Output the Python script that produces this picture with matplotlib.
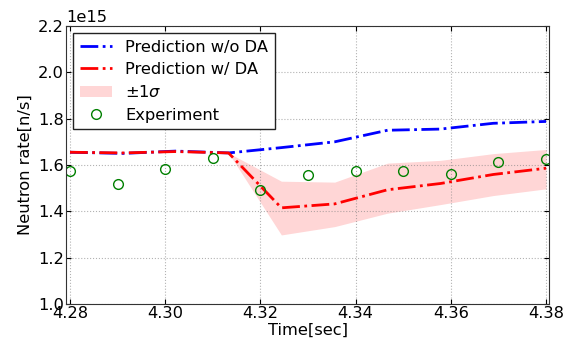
import numpy as np
import matplotlib
matplotlib.use('Agg')
import matplotlib.pyplot as plt

# model time grid (10 steps)
t_model = [4.28, 4.2911, 4.3022, 4.3133, 4.3244, 4.3356, 4.3467, 4.3578, 4.3689, 4.38]
pred_no_da = [1.655, 1.650, 1.660, 1.652, 1.675, 1.700, 1.750, 1.755, 1.780, 1.788]
pred_da = [1.655, 1.652, 1.658, 1.652, 1.415, 1.432, 1.493, 1.520, 1.559, 1.586]
da_upper = [1.655, 1.652, 1.658, 1.652, 1.530, 1.526, 1.608, 1.620, 1.649, 1.667]
da_lower = [1.655, 1.652, 1.658, 1.652, 1.298, 1.334, 1.392, 1.429, 1.468, 1.497]

# measurements
t_exp = [4.28, 4.29, 4.30, 4.31, 4.32, 4.33, 4.34, 4.35, 4.36, 4.37, 4.38]
n_exp = [1.572, 1.520, 1.581, 1.628, 1.494, 1.555, 1.576, 1.572, 1.563, 1.615, 1.624]

scale = 1e15

fig = plt.figure(figsize=(5.69, 3.40), dpi=100)
ax = fig.add_axes([0.116, 0.106, 0.849, 0.8175])

ax.plot(t_model, np.array(pred_no_da) * scale, color='blue', linestyle='-.', lw=2,
        label='Prediction w/o DA')
ax.plot(t_model, np.array(pred_da) * scale, color='red', linestyle='-.', lw=2,
        label='Prediction w/ DA')
ax.fill_between(t_model, np.array(da_lower) * scale, np.array(da_upper) * scale,
                color='#ffcccc', alpha=0.8, lw=0, label=r'$\pm1\sigma$')
ax.plot(t_exp, np.array(n_exp) * scale, 'o', mfc='none', mec='green', ms=7, mew=1,
        label='Experiment')

ax.set_xlim(4.27916, 4.38063)
ax.set_ylim(1.0e15, 2.2e15)
ax.set_xticks([4.28, 4.30, 4.32, 4.34, 4.36, 4.38])
ax.set_xlabel('Time[sec]', fontsize=11.7, labelpad=1)
ax.set_ylabel('Neutron rate[n/s]', fontsize=11.7, labelpad=4)
ax.tick_params(direction='in', labelsize=11.7, top=True, right=True, pad=1.5)
ax.yaxis.get_offset_text().set_fontsize(11.7)
for s in ax.spines.values():
    s.set_color('#333333')
ax.grid(True, linestyle=':', color='gray', alpha=0.6)
leg = ax.legend(loc='upper left', fontsize=11.7, fancybox=False, framealpha=1,
                edgecolor='#222222', labelspacing=0.45, borderaxespad=0.45)
leg.get_frame().set_linewidth(1)

plt.savefig('out.png', dpi=100)
